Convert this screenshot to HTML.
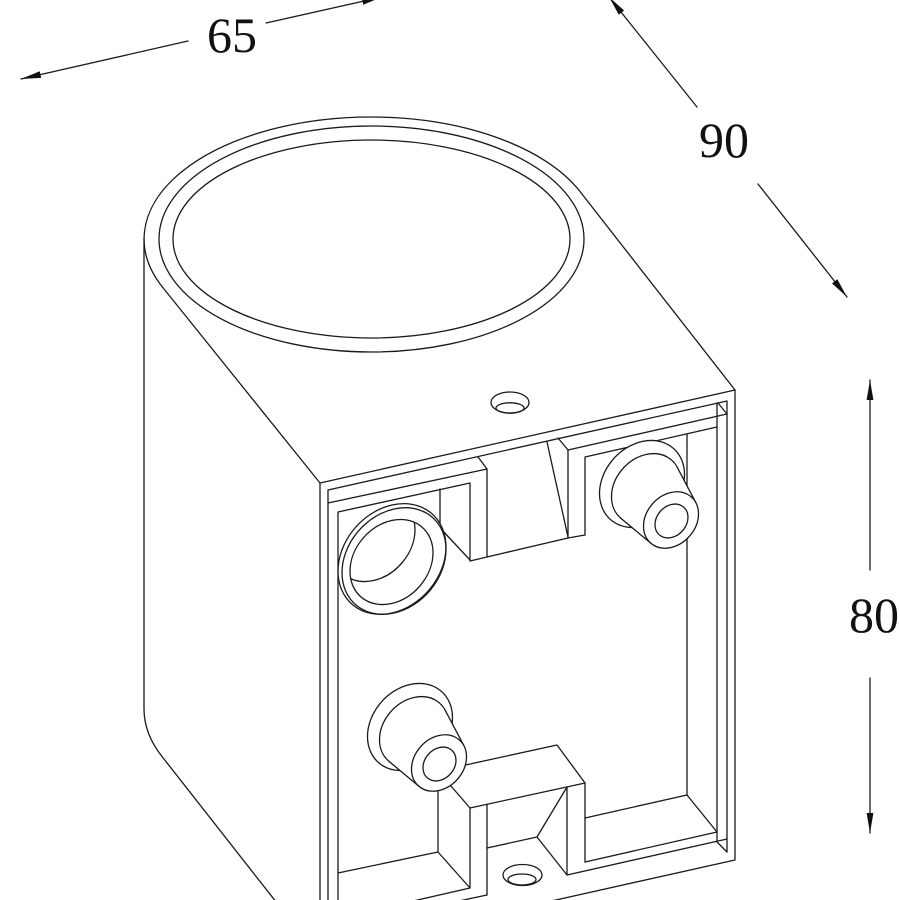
<!DOCTYPE html>
<html><head><meta charset="utf-8">
<style>
html,body{margin:0;padding:0;background:#fff;}
svg{display:block;}
.b circle,.b path,.b ellipse{vector-effect:non-scaling-stroke;}
</style></head>
<body>
<svg width="900" height="900" viewBox="0 0 900 900" xmlns="http://www.w3.org/2000/svg">
<defs>
<marker id="ar" markerWidth="22" markerHeight="10" refX="20" refY="5" orient="auto" markerUnits="userSpaceOnUse">
<path d="M0,1.6 L20,5 L0,8.4 Z" fill="#111"/>
</marker>
<clipPath id="rc"><circle cx="-0.5" cy="2.9" r="41.5"/></clipPath>
</defs>
<rect width="900" height="900" fill="#fff"/>
<g fill="none" stroke="#1a1a1a" stroke-width="1.3" stroke-linejoin="round" stroke-linecap="round">
<!-- cylinder / top face -->
<path d="M162,286.5 A227,122 0 0 1 371,117 A227,122 0 0 1 580,191.5 L735,390"/>
<path d="M162,286.5 L320,483"/>
<path d="M144,239 L144,709 A227,122 0 0 0 162,756.5 L284,912"/>
<ellipse cx="371.5" cy="239" rx="212.5" ry="113"/>
<ellipse cx="371.5" cy="239" rx="198.5" ry="99"/>

<!-- box outer frame -->
<path d="M320,905 L320,483 L735,390 L735,860 L520,908"/>
<!-- lip -->
<path d="M328,905 L328,490 L727,401 L727,852"/>
<!-- line 3 left + notch -->
<path d="M328,503 L487,469 L487,557"/>
<path d="M478,457 L487,469"/>
<path d="M547,442 L568,537"/>
<path d="M558,438 L568,450 L727,414"/>
<path d="M568,450 L568,538 L585,535"/>
<path d="M718,403 L727,414"/>
<!-- inner right -->
<path d="M585,535 L585,457 L717,427"/>
<path d="M717,403 L717,842 L727,852"/>
<path d="M687,434 L687,795 L717,832 L585,862"/>
<path d="M687,795 L585,818"/>
<path d="M585,783 L585,862"/>
<!-- inner left top pocket -->
<path d="M338,905 L338,512 L470,483 L470,561"/>
<path d="M440,489 L440,527"/>
<path d="M442,530 L470,560"/>
<path d="M470,561 L568,538"/>
<!-- bottom left pocket -->
<path d="M338,873 L438,852 L470,888"/>
<path d="M438,771 L438,852"/>
<path d="M470,808 L470,888 L400,904"/>
<path d="M440,905 L487,895"/>
<path d="M487,805 L487,895"/>
<!-- block -->
<path d="M438,771 L557,745 L585,783 L470,808 L438,771"/>
<path d="M567,787 L567,875 L727,839"/>
<path d="M487,848 L537,837 L567,787"/>
<path d="M537,837 L567,875"/>

<!-- top face counterbore -->
<ellipse cx="510" cy="402.5" rx="19" ry="10.5" fill="#fff"/>
<ellipse cx="510" cy="408" rx="14" ry="5.2"/>
<!-- bottom hole -->
<ellipse cx="522.5" cy="875" rx="19.5" ry="10.5" fill="#fff"/>
<ellipse cx="522" cy="879.5" rx="14" ry="5.5"/>

<!-- left ring hole -->
<g class="b" transform="translate(392,559) matrix(1,-0.224,0,1,0,0)">
<circle cx="0" cy="0" r="54" fill="#fff"/>
<circle cx="2" cy="2.45" r="52"/>
<circle cx="-0.5" cy="2.9" r="41.5"/>
<circle cx="-18.5" cy="-24.1" r="41.5" clip-path="url(#rc)"/>
</g>

<!-- right standoff -->
<g class="b" transform="translate(642,484) matrix(1,-0.224,0,1,0,0)">
<circle cx="0" cy="0" r="42.5" fill="#fff"/>
<circle cx="4" cy="5.9" r="34.5" fill="#fff"/>
<path d="M-21.05,29.62 L9.03,61.41 L53.88,30.78 L35.21,-8.80 Z" fill="#fff" stroke="none"/>
<path d="M-21.05,29.62 L9.03,61.41 M53.88,30.78 L35.21,-8.80"/>
<circle cx="29" cy="42.5" r="27.5" fill="#fff"/>
<circle cx="29.5" cy="43.6" r="16.5"/>
</g>

<!-- bottom-left standoff -->
<g class="b" transform="translate(410,727) matrix(1,-0.224,0,1,0,0)">
<circle cx="0" cy="0" r="42.5" fill="#fff"/>
<circle cx="4" cy="5.9" r="34.5" fill="#fff"/>
<path d="M-21.05,29.62 L9.03,61.41 L53.88,30.78 L35.21,-8.80 Z" fill="#fff" stroke="none"/>
<path d="M-21.05,29.62 L9.03,61.41 M53.88,30.78 L35.21,-8.80"/>
<circle cx="29" cy="42.5" r="27.5" fill="#fff"/>
<circle cx="29.5" cy="43.6" r="16.5"/>
</g>

<!-- dimension lines -->
<path d="M188,41 L21,79" marker-end="url(#ar)"/>
<path d="M266,23 L382,-3" marker-end="url(#ar)"/>
<path d="M697,107 L609,-3" marker-end="url(#ar)"/>
<path d="M758,184 L847,297" marker-end="url(#ar)"/>
<path d="M870,570 L870,380" marker-end="url(#ar)"/>
<path d="M870,678 L870,833" marker-end="url(#ar)"/>
</g>
<g font-family="'Liberation Serif', serif" font-size="50" fill="#111" text-anchor="middle">
<text x="232" y="52">65</text>
<text x="724" y="157">90</text>
<text x="874" y="632">80</text>
</g>
</svg>
</body></html>
